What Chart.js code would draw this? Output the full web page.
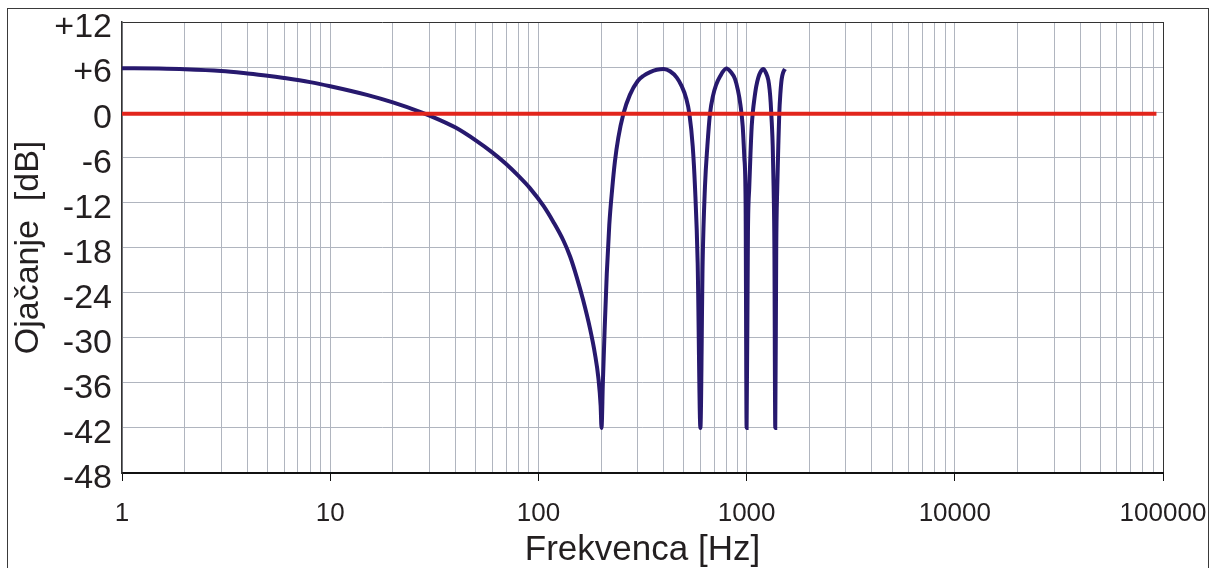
<!DOCTYPE html>
<html>
<head>
<meta charset="utf-8">
<script src="https://cdn.jsdelivr.net/npm/chart.js@4"></script>
<style>
  html, body { margin: 0; padding: 0; background: #fff; overflow: hidden; }
  #wrap { position: relative; width: 1215px; height: 568px; }
  #frame { position: absolute; left: 7px; top: 8px; width: 1200px; height: 700px; border: 1px solid #3a3a3a; }
  canvas { position: absolute; left: 0; top: 0; }
</style>
</head>
<body>
<div id="wrap">
  <div id="frame"></div>
  <canvas id="chart" width="1215" height="568"></canvas>
</div>
<script>
// frekvenca [Hz] in ojačanje [dB], odčitano s slike
const freqHz = [1, 1.5, 2, 3, 4, 5, 6, 8, 10, 15, 20, 27, 30, 40, 50, 60, 70, 80, 91, 106,
  118, 132, 142, 153, 164, 177, 187, 194, 199, 201,
  204, 208, 213, 219, 226, 233, 242, 256, 275, 300, 320, 344, 370, 400,
  429, 462, 487, 512, 531, 551, 565, 582, 600,
  615, 631, 648, 667, 690, 713, 745, 800,
  842, 880, 909, 935, 958, 975, 989, 1000,
  1015, 1030, 1044, 1058, 1073, 1089, 1112, 1138, 1166, 1203,
  1240, 1271, 1290, 1305, 1321, 1335, 1348, 1360, 1373,
  1388, 1404, 1420, 1435, 1453, 1474, 1499, 1529];
const gainDb = [5.85, 5.8, 5.72, 5.48, 5.15, 4.85, 4.55, 4.0, 3.45, 2.3, 1.3, 0.05, -0.45, -2.05, -3.75, -5.35, -6.9, -8.45, -10.1, -12.5,
  -14.6, -17.1, -19.2, -22.0, -25.0, -28.8, -32.2, -35.3, -39.0, -42,
  -36, -29, -21.5, -15, -10.3, -6.6, -3.4, -0.2, 2.3, 4.15, 4.85, 5.33, 5.65, 5.75,
  5.45, 4.6, 3.5, 1.9, -0.2, -4.5, -9.9, -20, -42,
  -20, -9.9, -4.5, -0.2, 2.2, 3.6, 4.75, 5.8,
  5.3, 4.4, 2.9, 0.9, -1.9, -6, -12, -42,
  -16, -9.9, -5.5, -1.9, 0.2, 1.7, 3.4, 4.6, 5.35, 5.75,
  5.2, 4.3, 3.0, 1.3, -1.4, -4.5, -10, -18, -42,
  -18, -9.9, -4.5, -0.2, 2.5, 4.4, 5.3, 5.75];

// referenčna črta (0 dB)
const refFreq = [1, 93000];
const refGain = [-0.2, -0.2];

// mreža in oznake osi
const gridFreq = [];
[1, 10, 100, 1000, 10000].forEach(d => {
  for (let k = 1; k <= 9; k++) gridFreq.push(d * k);
});
gridFreq.push(100000);
const decades = [1, 10, 100, 1000, 10000, 100000];
const yMin = -48, yMax = 12, yStep = 6;

const FONT = "'Liberation Sans', Arial, sans-serif";
const TXT = '#231f20';
const GRID = '#b0b5bf';
const EDGE = '#333333';

new Chart(document.getElementById('chart'), {
  type: 'line',
  data: {
    datasets: [
      {
        data: refFreq.map((f, i) => ({ x: f, y: refGain[i] })),
        borderColor: '#e2251c',
        borderWidth: 4,
        pointRadius: 0,
        order: 0
      },
      {
        data: freqHz.map((f, i) => ({ x: f, y: gainDb[i] })),
        borderColor: '#27196e',
        borderWidth: 4,
        pointRadius: 0,
        cubicInterpolationMode: 'monotone',
        order: 1
      }
    ]
  },
  options: {
    responsive: false,
    animation: false,
    layout: { padding: { top: 22, right: 52, left: 0, bottom: 0 } },
    plugins: { legend: { display: false }, tooltip: { enabled: false } },
    scales: {
      x: {
        type: 'logarithmic',
        min: 1,
        max: 100000,
        afterFit: s => { s.height = 95; s.paddingLeft = 0; s.paddingRight = 0; },
        afterBuildTicks: s => { s.ticks = gridFreq.map(v => ({ value: v })); },
        ticks: {
          autoSkip: false,
          maxRotation: 0,
          padding: 17,
          color: TXT,
          font: { family: FONT, size: 26 },
          callback: v => decades.includes(v) ? String(v) : ''
        },
        grid: {
          color: c => (c.tick && c.tick.value === 100000) ? EDGE : GRID,
          lineWidth: 1,
          tickLength: 8,
          tickColor: c => (c.tick && decades.includes(c.tick.value)) ? '#111' : 'rgba(0,0,0,0)'
        },
        border: { display: true, color: '#111', width: 2 },
        title: {
          display: true,
          text: 'Frekvenca [Hz]',
          color: TXT,
          font: { family: FONT, size: 35, lineHeight: 1 },
          padding: { top: 0, bottom: 0 }
        }
      },
      y: {
        min: yMin,
        max: yMax,
        afterFit: s => { s.width = 122; s.paddingTop = 0; s.paddingBottom = 0; },
        ticks: {
          stepSize: yStep,
          padding: 10,
          labelOffset: 6,
          color: TXT,
          font: { family: FONT, size: 34 },
          callback: v => v > 0 ? '+' + v : String(v)
        },
        grid: {
          drawTicks: false,
          color: c => (c.tick && (c.tick.value === yMax)) ? EDGE : (c.tick && c.tick.value === yMin ? '#111' : GRID),
          lineWidth: 1
        },
        border: { display: true, color: EDGE, width: 1.5 },
        title: {
          display: true,
          text: 'Ojačanje  [dB]',
          color: TXT,
          font: { family: FONT, size: 34 },
          padding: { top: 8, bottom: 0 }
        }
      }
    }
  }
});
</script>
</body>
</html>
